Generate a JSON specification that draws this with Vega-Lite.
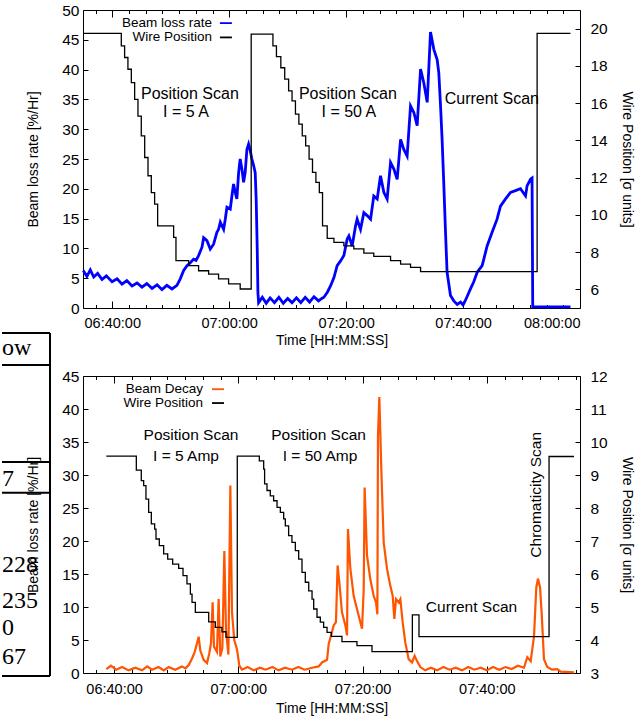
{
"$schema": "https://vega.github.io/schema/vega-lite/v6.json",
"padding": {"left": 0, "top": 2, "right": 4, "bottom": 0},
"bounds": "flush",
"spacing": 68,
"config": {
  "view": {"stroke": "#000", "strokeWidth": 1},
  "axis": {"grid": false, "domain": false, "tickColor": "#000", "tickWidth": 1, "labelFont": "Liberation Sans", "labelFontSize": 14.5, "labelColor": "#000", "titleFont": "Liberation Sans", "titleFontSize": 14, "titleFontWeight": "normal", "titleColor": "#000", "labelOverlap": false}
},
"datasets": {
  "blue": [
    {"t":"06:35:03","v":6.3},{"t":"06:35:40","v":5.3},{"t":"06:36:15","v":6.4},{"t":"06:36:50","v":5.2},{"t":"06:37:30","v":5.8},{"t":"06:38:15","v":4.8},{"t":"06:39:00","v":5.4},{"t":"06:39:58","v":4.4},{"t":"06:40:50","v":4.9},{"t":"06:41:40","v":4.0},{"t":"06:42:30","v":4.6},{"t":"06:43:23","v":3.7},{"t":"06:44:15","v":4.2},{"t":"06:45:05","v":3.5},{"t":"06:45:55","v":4.1},{"t":"06:46:48","v":3.3},{"t":"06:47:40","v":3.9},{"t":"06:48:30","v":3.1},{"t":"06:49:20","v":3.8},{"t":"06:50:13","v":3.2},{"t":"06:51:04","v":3.8},{"t":"06:51:38","v":4.9},{"t":"06:52:13","v":6.3},{"t":"06:52:47","v":7.1},{"t":"06:53:21","v":7.6},{"t":"06:53:55","v":8.2},{"t":"06:54:20","v":8.0},{"t":"06:54:46","v":8.8},{"t":"06:55:21","v":10.2},{"t":"06:55:38","v":11.8},{"t":"06:56:12","v":11.3},{"t":"06:56:46","v":9.9},{"t":"06:57:20","v":10.7},{"t":"06:57:54","v":12.7},{"t":"06:58:11","v":13.2},{"t":"06:58:29","v":14.4},{"t":"06:59:03","v":13.2},{"t":"06:59:20","v":14.9},{"t":"06:59:37","v":16.9},{"t":"07:00:11","v":16.6},{"t":"07:00:28","v":18.8},{"t":"07:00:45","v":20.8},{"t":"07:01:02","v":19.4},{"t":"07:01:19","v":18.3},{"t":"07:01:37","v":22.7},{"t":"07:01:53","v":25.0},{"t":"07:02:11","v":23.3},{"t":"07:02:28","v":21.1},{"t":"07:02:44","v":22.7},{"t":"07:03:02","v":26.6},{"t":"07:03:19","v":27.5},{"t":"07:03:36","v":26.4},{"t":"07:03:53","v":25.0},{"t":"07:04:11","v":23.9},{"t":"07:04:27","v":22.7},{"t":"07:04:37","v":18.3},{"t":"07:04:48","v":9.9},{"t":"07:04:55","v":2.6},{"t":"07:05:02","v":0.9},{"t":"07:05:40","v":1.8},{"t":"07:06:20","v":0.8},{"t":"07:07:00","v":1.7},{"t":"07:07:45","v":0.9},{"t":"07:08:30","v":1.8},{"t":"07:09:15","v":0.8},{"t":"07:10:00","v":1.6},{"t":"07:10:45","v":0.9},{"t":"07:11:30","v":1.7},{"t":"07:12:15","v":0.9},{"t":"07:13:00","v":1.8},{"t":"07:13:45","v":1.0},{"t":"07:14:30","v":1.9},{"t":"07:15:17","v":1.2},{"t":"07:15:50","v":1.6},{"t":"07:16:12","v":1.8},{"t":"07:16:46","v":2.6},{"t":"07:17:20","v":3.7},{"t":"07:17:55","v":5.1},{"t":"07:18:28","v":7.1},{"t":"07:19:03","v":7.9},{"t":"07:19:37","v":8.8},{"t":"07:20:11","v":11.6},{"t":"07:20:28","v":12.1},{"t":"07:21:02","v":10.4},{"t":"07:21:37","v":13.8},{"t":"07:21:53","v":14.9},{"t":"07:22:28","v":13.2},{"t":"07:23:02","v":16.0},{"t":"07:23:36","v":15.5},{"t":"07:24:11","v":14.9},{"t":"07:24:44","v":18.8},{"t":"07:25:19","v":18.3},{"t":"07:25:53","v":22.2},{"t":"07:26:27","v":19.4},{"t":"07:27:01","v":18.3},{"t":"07:27:36","v":24.4},{"t":"07:28:10","v":23.3},{"t":"07:28:44","v":21.6},{"t":"07:29:19","v":28.3},{"t":"07:29:52","v":26.6},{"t":"07:30:26","v":25.5},{"t":"07:31:01","v":33.9},{"t":"07:31:35","v":32.8},{"t":"07:32:09","v":30.6},{"t":"07:32:44","v":40.1},{"t":"07:33:17","v":37.8},{"t":"07:33:52","v":34.5},{"t":"07:34:26","v":46.3},{"t":"07:35:00","v":43.4},{"t":"07:35:34","v":41.7},{"t":"07:35:51","v":39.5},{"t":"07:36:09","v":33.9},{"t":"07:36:25","v":28.3},{"t":"07:36:43","v":20.5},{"t":"07:37:00","v":12.7},{"t":"07:37:16","v":6.0},{"t":"07:37:51","v":2.1},{"t":"07:38:25","v":1.2},{"t":"07:39:00","v":0.6},{"t":"07:39:34","v":1.0},{"t":"07:40:00","v":0.5},{"t":"07:40:25","v":1.3},{"t":"07:41:16","v":3.2},{"t":"07:41:50","v":4.4},{"t":"07:42:25","v":6.0},{"t":"07:43:16","v":7.1},{"t":"07:44:07","v":10.4},{"t":"07:44:58","v":12.7},{"t":"07:45:49","v":14.9},{"t":"07:46:24","v":17.1},{"t":"07:47:16","v":18.3},{"t":"07:48:07","v":19.4},{"t":"07:48:58","v":19.7},{"t":"07:49:49","v":20.0},{"t":"07:50:41","v":18.8},{"t":"07:50:57","v":20.5},{"t":"07:51:32","v":21.6},{"t":"07:51:48","v":21.8},{"t":"07:51:55","v":0.2},{"t":"07:58:22","v":0.2}
  ],
  "wireTop": [
    {"t":"06:35:00","w":19.75},{"t":"06:41:33","w":19.07},{"t":"06:42:07","w":18.45},{"t":"06:42:41","w":17.82},{"t":"06:43:16","w":17.1},{"t":"06:43:50","w":16.2},{"t":"06:44:24","w":15.3},{"t":"06:44:58","w":14.24},{"t":"06:45:33","w":13.08},{"t":"06:46:07","w":12.1},{"t":"06:46:41","w":11.2},{"t":"06:47:15","w":10.58},{"t":"06:47:46","w":9.41},{"t":"06:50:30","w":8.79},{"t":"06:50:54","w":7.54},{"t":"06:53:04","w":7.27},{"t":"06:54:46","w":7.0},{"t":"06:56:29","w":6.82},{"t":"06:58:11","w":6.56},{"t":"06:59:54","w":6.29},{"t":"07:01:53","w":6.02},{"t":"07:03:46","w":19.7},{"t":"07:07:29","w":19.07},{"t":"07:08:05","w":18.5},{"t":"07:08:50","w":17.9},{"t":"07:09:30","w":17.29},{"t":"07:10:10","w":16.66},{"t":"07:10:45","w":16.12},{"t":"07:11:20","w":15.41},{"t":"07:11:55","w":14.87},{"t":"07:12:30","w":14.24},{"t":"07:13:05","w":13.71},{"t":"07:13:40","w":12.99},{"t":"07:14:15","w":12.28},{"t":"07:14:50","w":11.74},{"t":"07:15:25","w":11.2},{"t":"07:15:58","w":9.41},{"t":"07:16:46","w":8.74},{"t":"07:17:55","w":8.52},{"t":"07:19:37","w":8.34},{"t":"07:21:19","w":8.17},{"t":"07:23:02","w":7.95},{"t":"07:24:44","w":7.77},{"t":"07:27:36","w":7.54},{"t":"07:29:19","w":7.36},{"t":"07:31:01","w":7.18},{"t":"07:32:44","w":6.95},{"t":"07:52:40","w":19.75},{"t":"07:58:22","w":19.75}
  ],
  "notesTop": [
    {"t":"06:53:17","v":35.9,"label":"Position Scan"},{"t":"06:52:36","v":32.85,"label":"I = 5 A"},{"t":"07:20:18","v":35.9,"label":"Position Scan"},{"t":"07:20:28","v":32.85,"label":"I = 50 A"},{"t":"07:44:55","v":35.0,"label":"Current Scan"}
  ],
  "legTop": [
    {"t":"06:57:03","v":47.8,"label":"Beam loss rate"},{"t":"06:57:03","v":45.4,"label":"Wire Position"}
  ],
  "legTopRule": [
    {"t0":"06:58:25","t1":"07:00:28","v":47.8,"s":"data"},{"t0":"06:58:25","t1":"07:00:28","v":45.4,"s":"wire"}
  ],
  "orange": [
    {"t":"06:38:45","v":0.6},{"t":"06:39:30","v":1.1},{"t":"06:40:20","v":0.5},{"t":"06:41:17","v":0.9},{"t":"06:42:20","v":0.4},{"t":"06:43:25","v":0.8},{"t":"06:44:30","v":0.4},{"t":"06:45:20","v":1.0},{"t":"06:46:07","v":0.5},{"t":"06:47:10","v":0.9},{"t":"06:48:00","v":0.4},{"t":"06:48:47","v":0.9},{"t":"06:49:50","v":0.5},{"t":"06:50:56","v":1.0},{"t":"06:51:30","v":0.7},{"t":"06:52:01","v":1.2},{"t":"06:52:33","v":2.2},{"t":"06:52:59","v":3.2},{"t":"06:53:21","v":4.5},{"t":"06:53:37","v":5.5},{"t":"06:53:53","v":3.4},{"t":"06:54:25","v":2.0},{"t":"06:54:58","v":1.5},{"t":"06:55:20","v":3.0},{"t":"06:55:36","v":4.5},{"t":"06:55:52","v":10.7},{"t":"06:56:05","v":4.0},{"t":"06:56:34","v":3.2},{"t":"06:56:50","v":11.2},{"t":"06:57:06","v":2.5},{"t":"06:57:26","v":3.8},{"t":"06:57:45","v":18.5},{"t":"06:58:01","v":6.5},{"t":"06:58:24","v":2.8},{"t":"06:58:43","v":28.4},{"t":"06:58:59","v":9.2},{"t":"06:59:21","v":5.0},{"t":"06:59:47","v":3.6},{"t":"07:00:10","v":1.1},{"t":"07:00:36","v":0.5},{"t":"07:01:30","v":0.9},{"t":"07:02:30","v":0.4},{"t":"07:03:30","v":0.8},{"t":"07:04:21","v":0.5},{"t":"07:05:30","v":0.9},{"t":"07:06:30","v":0.4},{"t":"07:07:30","v":0.8},{"t":"07:08:38","v":0.5},{"t":"07:09:40","v":0.9},{"t":"07:10:40","v":0.5},{"t":"07:11:52","v":0.8},{"t":"07:12:56","v":1.0},{"t":"07:13:28","v":1.6},{"t":"07:14:17","v":2.0},{"t":"07:14:33","v":4.4},{"t":"07:15:05","v":6.2},{"t":"07:15:21","v":7.2},{"t":"07:15:43","v":7.7},{"t":"07:15:59","v":16.3},{"t":"07:16:16","v":13.7},{"t":"07:16:41","v":9.2},{"t":"07:17:14","v":7.2},{"t":"07:17:30","v":5.7},{"t":"07:17:39","v":21.8},{"t":"07:18:02","v":15.8},{"t":"07:18:34","v":11.7},{"t":"07:19:22","v":8.7},{"t":"07:19:55","v":6.7},{"t":"07:20:11","v":12.7},{"t":"07:20:20","v":28.1},{"t":"07:20:43","v":17.8},{"t":"07:21:15","v":14.2},{"t":"07:21:47","v":11.7},{"t":"07:22:10","v":10.7},{"t":"07:22:23","v":8.9},{"t":"07:22:29","v":36.0},{"t":"07:22:42","v":41.8},{"t":"07:23:01","v":30.9},{"t":"07:23:24","v":19.8},{"t":"07:23:56","v":15.8},{"t":"07:24:28","v":13.2},{"t":"07:24:51","v":11.7},{"t":"07:25:07","v":8.2},{"t":"07:25:23","v":11.2},{"t":"07:25:49","v":10.7},{"t":"07:26:05","v":11.2},{"t":"07:26:27","v":7.7},{"t":"07:26:53","v":4.6},{"t":"07:27:25","v":2.1},{"t":"07:27:58","v":1.6},{"t":"07:28:23","v":2.6},{"t":"07:28:46","v":1.8},{"t":"07:29:18","v":0.9},{"t":"07:30:06","v":0.4},{"t":"07:31:00","v":0.8},{"t":"07:32:00","v":0.4},{"t":"07:33:00","v":0.9},{"t":"07:34:00","v":0.5},{"t":"07:35:00","v":0.8},{"t":"07:36:00","v":0.4},{"t":"07:37:00","v":0.9},{"t":"07:38:00","v":0.5},{"t":"07:39:00","v":0.8},{"t":"07:40:00","v":0.4},{"t":"07:41:00","v":0.9},{"t":"07:42:00","v":0.5},{"t":"07:43:00","v":0.9},{"t":"07:44:00","v":0.6},{"t":"07:45:00","v":1.1},{"t":"07:45:59","v":0.8},{"t":"07:46:31","v":2.4},{"t":"07:47:04","v":1.8},{"t":"07:47:36","v":5.6},{"t":"07:47:58","v":13.0},{"t":"07:48:14","v":14.3},{"t":"07:48:34","v":13.0},{"t":"07:48:50","v":9.0},{"t":"07:49:12","v":2.1},{"t":"07:49:44","v":0.9},{"t":"07:50:30","v":0.5},{"t":"07:51:21","v":0.6},{"t":"07:51:53","v":0.2},{"t":"07:54:02","v":0.1}
  ],
  "wireBot": [
    {"t":"06:38:45","w":9.57},{"t":"06:43:35","w":9.15},{"t":"06:44:23","w":8.83},{"t":"06:44:46","w":8.68},{"t":"06:45:08","w":8.27},{"t":"06:45:34","w":7.87},{"t":"06:46:00","w":7.52},{"t":"06:46:32","w":7.36},{"t":"06:46:45","w":7.06},{"t":"06:47:17","w":6.86},{"t":"06:47:59","w":6.61},{"t":"06:48:38","w":6.45},{"t":"06:49:26","w":6.30},{"t":"06:50:24","w":6.17},{"t":"06:51:06","w":5.95},{"t":"06:51:44","w":5.70},{"t":"06:52:17","w":5.39},{"t":"06:52:33","w":5.14},{"t":"06:53:05","w":4.84},{"t":"06:55:14","w":4.55},{"t":"06:56:18","w":4.38},{"t":"06:57:22","w":4.25},{"t":"06:58:01","w":4.08},{"t":"06:59:50","w":9.57},{"t":"07:03:23","w":9.43},{"t":"07:04:05","w":9.18},{"t":"07:04:14","w":8.73},{"t":"07:04:37","w":8.53},{"t":"07:05:09","w":8.37},{"t":"07:05:41","w":8.22},{"t":"07:06:14","w":8.02},{"t":"07:06:46","w":7.87},{"t":"07:07:18","w":7.67},{"t":"07:07:34","w":7.46},{"t":"07:08:06","w":7.16},{"t":"07:08:38","w":6.96},{"t":"07:09:11","w":6.71},{"t":"07:09:43","w":6.45},{"t":"07:10:15","w":6.05},{"t":"07:10:47","w":5.75},{"t":"07:11:20","w":5.49},{"t":"07:11:52","w":5.24},{"t":"07:12:08","w":4.94},{"t":"07:12:40","w":4.69},{"t":"07:13:12","w":4.54},{"t":"07:13:44","w":4.38},{"t":"07:14:17","w":4.23},{"t":"07:14:58","w":4.11},{"t":"07:16:41","w":3.95},{"t":"07:19:06","w":3.83},{"t":"07:21:31","w":3.65},{"t":"07:28:01","w":4.76},{"t":"07:29:05","w":4.10},{"t":"07:50:01","w":9.56},{"t":"07:54:02","w":9.56}
  ],
  "notesBot": [
    {"t":"06:52:23","v":36.1,"label":"Position Scan"},{"t":"06:51:35","v":32.9,"label":"I = 5 Amp"},{"t":"07:12:55","v":36.0,"label":"Position Scan"},{"t":"07:13:09","v":32.9,"label":"I = 50 Amp"},{"t":"07:37:32","v":10.0,"label":"Current Scan"}
  ],
  "chrom": [{"t":"07:47:55","v":27.0,"label":"Chromaticity Scan"}],
  "legBot": [
    {"t":"06:54:19","v":43.0,"label":"Beam Decay"},{"t":"06:54:19","v":40.9,"label":"Wire Position"}
  ],
  "legBotRule": [
    {"t0":"06:55:46","t1":"06:57:42","v":43.0,"s":"data"},{"t0":"06:55:46","t1":"06:57:42","v":40.9,"s":"wire"}
  ],
  "tableLines": [
    {"x1":0,"x2":1,"y1":0,"y2":0},{"x1":0,"x2":1,"y1":0.93,"y2":0.93},{"x1":0,"x2":1,"y1":3.76,"y2":3.76},{"x1":0,"x2":1,"y1":4.66,"y2":4.66},{"x1":0,"x2":1,"y1":10,"y2":10},{"x1":1,"x2":1,"y1":0,"y2":10}
  ],
  "tableText": [
    {"c":0,"r":0.44,"txt":"ow"},{"c":0,"r":4.27,"txt":"7"},{"c":0,"r":6.76,"txt":"228"},{"c":0,"r":7.81,"txt":"235"},{"c":0,"r":8.6,"txt":"0"},{"c":0,"r":9.45,"txt":"67"}
  ]
},
"vconcat": [
  {
    "width": 497, "height": 298,
    "resolve": {"scale": {"x": "independent", "y": "independent", "color": "independent"}, "axis": {"x": "independent", "y": "independent"}},
    "layer": [
      {
        "data": {"name": "blue", "format": {"parse": {"t": "date:'%H:%M:%S'"}}},
        "mark": {"type": "line", "color": "#0000ff", "strokeWidth": 2.8},
        "encoding": {
          "x": {"field": "t", "type": "temporal", "scale": {"domain": [{"year":1900,"month":1,"date":1,"hours":6,"minutes":35},{"year":1900,"month":1,"date":1,"hours":8,"minutes":0}], "nice": false},
                "axis": {"orient": "bottom", "format": "%H:%M:%S", "tickSize": -7, "labelPadding": 15, "title": "Time [HH:MM:SS]", "titlePadding": 4,
                  "values": [{"year":1900,"month":1,"date":1,"hours":6,"minutes":40},{"year":1900,"month":1,"date":1,"hours":7,"minutes":0},{"year":1900,"month":1,"date":1,"hours":7,"minutes":20},{"year":1900,"month":1,"date":1,"hours":7,"minutes":40},{"year":1900,"month":1,"date":1,"hours":8,"minutes":0}]}},
          "y": {"field": "v", "type": "quantitative", "scale": {"domain": [0, 50], "nice": false, "zero": false},
                "axis": {"orient": "left", "values": [0,5,10,15,20,25,30,35,40,45,50], "tickSize": -5, "labelPadding": 9, "labelFontSize": 15.5, "title": "Beam loss rate [%/Hr]", "titlePadding": 21}}
        }
      },
      {
        "data": {"name": "wireTop", "format": {"parse": {"t": "date:'%H:%M:%S'"}}},
        "mark": {"type": "line", "interpolate": "step-after", "color": "#000000", "strokeWidth": 1.3},
        "encoding": {
          "x": {"field": "t", "type": "temporal", "scale": {"domain": [{"year":1900,"month":1,"date":1,"hours":6,"minutes":35},{"year":1900,"month":1,"date":1,"hours":8,"minutes":0}], "nice": false},
                "axis": {"orient": "top", "labels": false, "tickSize": -7, "title": null,
                  "values": [{"year":1900,"month":1,"date":1,"hours":6,"minutes":40},{"year":1900,"month":1,"date":1,"hours":7,"minutes":0},{"year":1900,"month":1,"date":1,"hours":7,"minutes":20},{"year":1900,"month":1,"date":1,"hours":7,"minutes":40},{"year":1900,"month":1,"date":1,"hours":8,"minutes":0}]}},
          "y": {"field": "w", "type": "quantitative", "scale": {"domain": [5, 21], "nice": false, "zero": false},
                "axis": {"orient": "right", "values": [6,8,10,12,14,16,18,20], "tickSize": -5, "labelPadding": 15, "labelFontSize": 15.5, "title": "Wire Position [σ units]", "titlePadding": 12}}
        }
      },
      {
        "data": {"name": "notesTop", "format": {"parse": {"t": "date:'%H:%M:%S'"}}},
        "mark": {"type": "text", "font": "Liberation Sans", "fontSize": 16, "align": "center", "baseline": "middle", "color": "#000"},
        "encoding": {
          "x": {"field": "t", "type": "temporal", "scale": {"domain": [{"year":1900,"month":1,"date":1,"hours":6,"minutes":35},{"year":1900,"month":1,"date":1,"hours":8,"minutes":0}], "nice": false},
                "axis": {"orient": "bottom", "labels": false, "tickSize": -3.5, "title": null,
                  "values": [{"year":1900,"month":1,"date":1,"hours":6,"minutes":37,"seconds":9},{"year":1900,"month":1,"date":1,"hours":6,"minutes":42,"seconds":51},{"year":1900,"month":1,"date":1,"hours":6,"minutes":45,"seconds":43},{"year":1900,"month":1,"date":1,"hours":6,"minutes":48,"seconds":34},{"year":1900,"month":1,"date":1,"hours":6,"minutes":51,"seconds":26},{"year":1900,"month":1,"date":1,"hours":6,"minutes":54,"seconds":17},{"year":1900,"month":1,"date":1,"hours":6,"minutes":57,"seconds":9},{"year":1900,"month":1,"date":1,"hours":7,"minutes":2,"seconds":51},{"year":1900,"month":1,"date":1,"hours":7,"minutes":5,"seconds":43},{"year":1900,"month":1,"date":1,"hours":7,"minutes":8,"seconds":34},{"year":1900,"month":1,"date":1,"hours":7,"minutes":11,"seconds":26},{"year":1900,"month":1,"date":1,"hours":7,"minutes":14,"seconds":17},{"year":1900,"month":1,"date":1,"hours":7,"minutes":17,"seconds":9},{"year":1900,"month":1,"date":1,"hours":7,"minutes":22,"seconds":51},{"year":1900,"month":1,"date":1,"hours":7,"minutes":25,"seconds":43},{"year":1900,"month":1,"date":1,"hours":7,"minutes":28,"seconds":34},{"year":1900,"month":1,"date":1,"hours":7,"minutes":31,"seconds":26},{"year":1900,"month":1,"date":1,"hours":7,"minutes":34,"seconds":17},{"year":1900,"month":1,"date":1,"hours":7,"minutes":37,"seconds":9},{"year":1900,"month":1,"date":1,"hours":7,"minutes":42,"seconds":51},{"year":1900,"month":1,"date":1,"hours":7,"minutes":45,"seconds":43},{"year":1900,"month":1,"date":1,"hours":7,"minutes":48,"seconds":34},{"year":1900,"month":1,"date":1,"hours":7,"minutes":51,"seconds":26},{"year":1900,"month":1,"date":1,"hours":7,"minutes":54,"seconds":17},{"year":1900,"month":1,"date":1,"hours":7,"minutes":57,"seconds":9}]}},
          "y": {"field": "v", "type": "quantitative", "scale": {"domain": [0, 50], "nice": false, "zero": false}, "axis": null},
          "text": {"field": "label"}
        }
      },
      {
        "data": {"name": "legTop", "format": {"parse": {"t": "date:'%H:%M:%S'"}}},
        "mark": {"type": "text", "font": "Liberation Sans", "fontSize": 13.5, "align": "right", "baseline": "middle", "color": "#000"},
        "encoding": {
          "x": {"field": "t", "type": "temporal", "scale": {"domain": [{"year":1900,"month":1,"date":1,"hours":6,"minutes":35},{"year":1900,"month":1,"date":1,"hours":8,"minutes":0}], "nice": false},
                "axis": {"orient": "top", "labels": false, "tickSize": -3.5, "title": null,
                  "values": [{"year":1900,"month":1,"date":1,"hours":6,"minutes":37,"seconds":9},{"year":1900,"month":1,"date":1,"hours":6,"minutes":42,"seconds":51},{"year":1900,"month":1,"date":1,"hours":6,"minutes":45,"seconds":43},{"year":1900,"month":1,"date":1,"hours":6,"minutes":48,"seconds":34},{"year":1900,"month":1,"date":1,"hours":6,"minutes":51,"seconds":26},{"year":1900,"month":1,"date":1,"hours":6,"minutes":54,"seconds":17},{"year":1900,"month":1,"date":1,"hours":6,"minutes":57,"seconds":9},{"year":1900,"month":1,"date":1,"hours":7,"minutes":2,"seconds":51},{"year":1900,"month":1,"date":1,"hours":7,"minutes":5,"seconds":43},{"year":1900,"month":1,"date":1,"hours":7,"minutes":8,"seconds":34},{"year":1900,"month":1,"date":1,"hours":7,"minutes":11,"seconds":26},{"year":1900,"month":1,"date":1,"hours":7,"minutes":14,"seconds":17},{"year":1900,"month":1,"date":1,"hours":7,"minutes":17,"seconds":9},{"year":1900,"month":1,"date":1,"hours":7,"minutes":22,"seconds":51},{"year":1900,"month":1,"date":1,"hours":7,"minutes":25,"seconds":43},{"year":1900,"month":1,"date":1,"hours":7,"minutes":28,"seconds":34},{"year":1900,"month":1,"date":1,"hours":7,"minutes":31,"seconds":26},{"year":1900,"month":1,"date":1,"hours":7,"minutes":34,"seconds":17},{"year":1900,"month":1,"date":1,"hours":7,"minutes":37,"seconds":9},{"year":1900,"month":1,"date":1,"hours":7,"minutes":42,"seconds":51},{"year":1900,"month":1,"date":1,"hours":7,"minutes":45,"seconds":43},{"year":1900,"month":1,"date":1,"hours":7,"minutes":48,"seconds":34},{"year":1900,"month":1,"date":1,"hours":7,"minutes":51,"seconds":26},{"year":1900,"month":1,"date":1,"hours":7,"minutes":54,"seconds":17},{"year":1900,"month":1,"date":1,"hours":7,"minutes":57,"seconds":9}]}},
          "y": {"field": "v", "type": "quantitative", "scale": {"domain": [0, 50], "nice": false, "zero": false}, "axis": null},
          "text": {"field": "label"}
        }
      },
      {
        "data": {"name": "legTopRule", "format": {"parse": {"t0": "date:'%H:%M:%S'", "t1": "date:'%H:%M:%S'"}}},
        "mark": {"type": "rule", "strokeWidth": 1.8},
        "encoding": {
          "x": {"field": "t0", "type": "temporal", "scale": {"domain": [{"year":1900,"month":1,"date":1,"hours":6,"minutes":35},{"year":1900,"month":1,"date":1,"hours":8,"minutes":0}], "nice": false}, "axis": null},
          "x2": {"field": "t1"},
          "y": {"field": "v", "type": "quantitative", "scale": {"domain": [0, 50], "nice": false, "zero": false}, "axis": null},
          "color": {"field": "s", "type": "nominal", "scale": {"domain": ["data", "wire"], "range": ["#0000ff", "#000000"]}, "legend": null}
        }
      }
    ]
  },
  {
    "width": 497, "height": 297,
    "resolve": {"scale": {"x": "independent", "y": "independent", "color": "independent"}, "axis": {"x": "independent", "y": "independent"}},
    "layer": [
      {
        "data": {"name": "tableLines"},
        "mark": {"type": "rule", "strokeWidth": 2, "color": "#000"},
        "encoding": {
          "x": {"field": "x1", "type": "quantitative", "scale": {"domain": [0, 1], "range": [-81, -33], "nice": false, "zero": false}, "axis": null},
          "x2": {"field": "x2"},
          "y": {"field": "y1", "type": "quantitative", "scale": {"domain": [0, 10], "range": [-43, 300], "nice": false, "zero": false}, "axis": null},
          "y2": {"field": "y2"}
        }
      },
      {
        "data": {"name": "tableText"},
        "mark": {"type": "text", "font": "Liberation Serif", "fontSize": 24, "align": "left", "baseline": "middle", "color": "#000"},
        "encoding": {
          "x": {"field": "c", "type": "quantitative", "scale": {"domain": [0, 1], "range": [-81, -33], "nice": false, "zero": false}, "axis": null},
          "y": {"field": "r", "type": "quantitative", "scale": {"domain": [0, 10], "range": [-43, 300], "nice": false, "zero": false}, "axis": null},
          "text": {"field": "txt"}
        }
      },
      {
        "data": {"name": "orange", "format": {"parse": {"t": "date:'%H:%M:%S'"}}},
        "mark": {"type": "line", "color": "#ff5500", "strokeWidth": 2.2},
        "encoding": {
          "x": {"field": "t", "type": "temporal", "scale": {"domain": [{"year":1900,"month":1,"date":1,"hours":6,"minutes":35},{"year":1900,"month":1,"date":1,"hours":7,"minutes":55}], "nice": false},
                "axis": {"orient": "bottom", "format": "%H:%M:%S", "tickSize": -7, "labelPadding": 16, "title": "Time [HH:MM:SS]", "titlePadding": 6,
                  "values": [{"year":1900,"month":1,"date":1,"hours":6,"minutes":40},{"year":1900,"month":1,"date":1,"hours":7,"minutes":0},{"year":1900,"month":1,"date":1,"hours":7,"minutes":20},{"year":1900,"month":1,"date":1,"hours":7,"minutes":40}]}},
          "y": {"field": "v", "type": "quantitative", "scale": {"domain": [0, 45], "nice": false, "zero": false},
                "axis": {"orient": "left", "values": [0,5,10,15,20,25,30,35,40,45], "tickSize": -5, "labelPadding": 9, "labelFontSize": 15.5, "title": "Beam loss rate [%/Hr]", "titlePadding": 21, "zindex": 1}}
        }
      },
      {
        "data": {"name": "wireBot", "format": {"parse": {"t": "date:'%H:%M:%S'"}}},
        "mark": {"type": "line", "interpolate": "step-after", "color": "#000000", "strokeWidth": 1.3},
        "encoding": {
          "x": {"field": "t", "type": "temporal", "scale": {"domain": [{"year":1900,"month":1,"date":1,"hours":6,"minutes":35},{"year":1900,"month":1,"date":1,"hours":7,"minutes":55}], "nice": false},
                "axis": {"orient": "top", "labels": false, "tickSize": -7, "title": null,
                  "values": [{"year":1900,"month":1,"date":1,"hours":6,"minutes":40},{"year":1900,"month":1,"date":1,"hours":7,"minutes":0},{"year":1900,"month":1,"date":1,"hours":7,"minutes":20},{"year":1900,"month":1,"date":1,"hours":7,"minutes":40}]}},
          "y": {"field": "w", "type": "quantitative", "scale": {"domain": [3, 12], "nice": false, "zero": false},
                "axis": {"orient": "right", "values": [3,4,5,6,7,8,9,10,11,12], "tickSize": -5, "labelPadding": 15, "labelFontSize": 15.5, "title": "Wire Position [σ units]", "titlePadding": 12}}
        }
      },
      {
        "data": {"name": "notesBot", "format": {"parse": {"t": "date:'%H:%M:%S'"}}},
        "mark": {"type": "text", "font": "Liberation Sans", "fontSize": 15.5, "align": "center", "baseline": "middle", "color": "#000"},
        "encoding": {
          "x": {"field": "t", "type": "temporal", "scale": {"domain": [{"year":1900,"month":1,"date":1,"hours":6,"minutes":35},{"year":1900,"month":1,"date":1,"hours":7,"minutes":55}], "nice": false},
                "axis": {"orient": "bottom", "labels": false, "tickSize": -3.5, "title": null,
                  "values": [{"year":1900,"month":1,"date":1,"hours":6,"minutes":37,"seconds":9},{"year":1900,"month":1,"date":1,"hours":6,"minutes":42,"seconds":51},{"year":1900,"month":1,"date":1,"hours":6,"minutes":45,"seconds":43},{"year":1900,"month":1,"date":1,"hours":6,"minutes":48,"seconds":34},{"year":1900,"month":1,"date":1,"hours":6,"minutes":51,"seconds":26},{"year":1900,"month":1,"date":1,"hours":6,"minutes":54,"seconds":17},{"year":1900,"month":1,"date":1,"hours":6,"minutes":57,"seconds":9},{"year":1900,"month":1,"date":1,"hours":7,"minutes":2,"seconds":51},{"year":1900,"month":1,"date":1,"hours":7,"minutes":5,"seconds":43},{"year":1900,"month":1,"date":1,"hours":7,"minutes":8,"seconds":34},{"year":1900,"month":1,"date":1,"hours":7,"minutes":11,"seconds":26},{"year":1900,"month":1,"date":1,"hours":7,"minutes":14,"seconds":17},{"year":1900,"month":1,"date":1,"hours":7,"minutes":17,"seconds":9},{"year":1900,"month":1,"date":1,"hours":7,"minutes":22,"seconds":51},{"year":1900,"month":1,"date":1,"hours":7,"minutes":25,"seconds":43},{"year":1900,"month":1,"date":1,"hours":7,"minutes":28,"seconds":34},{"year":1900,"month":1,"date":1,"hours":7,"minutes":31,"seconds":26},{"year":1900,"month":1,"date":1,"hours":7,"minutes":34,"seconds":17},{"year":1900,"month":1,"date":1,"hours":7,"minutes":37,"seconds":9},{"year":1900,"month":1,"date":1,"hours":7,"minutes":42,"seconds":51},{"year":1900,"month":1,"date":1,"hours":7,"minutes":45,"seconds":43},{"year":1900,"month":1,"date":1,"hours":7,"minutes":48,"seconds":34},{"year":1900,"month":1,"date":1,"hours":7,"minutes":51,"seconds":26},{"year":1900,"month":1,"date":1,"hours":7,"minutes":54,"seconds":17}]}},
          "y": {"field": "v", "type": "quantitative", "scale": {"domain": [0, 45], "nice": false, "zero": false}, "axis": null},
          "text": {"field": "label"}
        }
      },
      {
        "data": {"name": "chrom", "format": {"parse": {"t": "date:'%H:%M:%S'"}}},
        "mark": {"type": "text", "font": "Liberation Sans", "fontSize": 15.5, "align": "center", "baseline": "middle", "angle": 270, "color": "#000"},
        "encoding": {
          "x": {"field": "t", "type": "temporal", "scale": {"domain": [{"year":1900,"month":1,"date":1,"hours":6,"minutes":35},{"year":1900,"month":1,"date":1,"hours":7,"minutes":55}], "nice": false},
                "axis": {"orient": "top", "labels": false, "tickSize": -3.5, "title": null,
                  "values": [{"year":1900,"month":1,"date":1,"hours":6,"minutes":37,"seconds":9},{"year":1900,"month":1,"date":1,"hours":6,"minutes":42,"seconds":51},{"year":1900,"month":1,"date":1,"hours":6,"minutes":45,"seconds":43},{"year":1900,"month":1,"date":1,"hours":6,"minutes":48,"seconds":34},{"year":1900,"month":1,"date":1,"hours":6,"minutes":51,"seconds":26},{"year":1900,"month":1,"date":1,"hours":6,"minutes":54,"seconds":17},{"year":1900,"month":1,"date":1,"hours":6,"minutes":57,"seconds":9},{"year":1900,"month":1,"date":1,"hours":7,"minutes":2,"seconds":51},{"year":1900,"month":1,"date":1,"hours":7,"minutes":5,"seconds":43},{"year":1900,"month":1,"date":1,"hours":7,"minutes":8,"seconds":34},{"year":1900,"month":1,"date":1,"hours":7,"minutes":11,"seconds":26},{"year":1900,"month":1,"date":1,"hours":7,"minutes":14,"seconds":17},{"year":1900,"month":1,"date":1,"hours":7,"minutes":17,"seconds":9},{"year":1900,"month":1,"date":1,"hours":7,"minutes":22,"seconds":51},{"year":1900,"month":1,"date":1,"hours":7,"minutes":25,"seconds":43},{"year":1900,"month":1,"date":1,"hours":7,"minutes":28,"seconds":34},{"year":1900,"month":1,"date":1,"hours":7,"minutes":31,"seconds":26},{"year":1900,"month":1,"date":1,"hours":7,"minutes":34,"seconds":17},{"year":1900,"month":1,"date":1,"hours":7,"minutes":37,"seconds":9},{"year":1900,"month":1,"date":1,"hours":7,"minutes":42,"seconds":51},{"year":1900,"month":1,"date":1,"hours":7,"minutes":45,"seconds":43},{"year":1900,"month":1,"date":1,"hours":7,"minutes":48,"seconds":34},{"year":1900,"month":1,"date":1,"hours":7,"minutes":51,"seconds":26},{"year":1900,"month":1,"date":1,"hours":7,"minutes":54,"seconds":17}]}},
          "y": {"field": "v", "type": "quantitative", "scale": {"domain": [0, 45], "nice": false, "zero": false}, "axis": null},
          "text": {"field": "label"}
        }
      },
      {
        "data": {"name": "legBot", "format": {"parse": {"t": "date:'%H:%M:%S'"}}},
        "mark": {"type": "text", "font": "Liberation Sans", "fontSize": 13.5, "align": "right", "baseline": "middle", "color": "#000"},
        "encoding": {
          "x": {"field": "t", "type": "temporal", "scale": {"domain": [{"year":1900,"month":1,"date":1,"hours":6,"minutes":35},{"year":1900,"month":1,"date":1,"hours":7,"minutes":55}], "nice": false}, "axis": null},
          "y": {"field": "v", "type": "quantitative", "scale": {"domain": [0, 45], "nice": false, "zero": false}, "axis": null},
          "text": {"field": "label"}
        }
      },
      {
        "data": {"name": "legBotRule", "format": {"parse": {"t0": "date:'%H:%M:%S'", "t1": "date:'%H:%M:%S'"}}},
        "mark": {"type": "rule", "strokeWidth": 1.8},
        "encoding": {
          "x": {"field": "t0", "type": "temporal", "scale": {"domain": [{"year":1900,"month":1,"date":1,"hours":6,"minutes":35},{"year":1900,"month":1,"date":1,"hours":7,"minutes":55}], "nice": false}, "axis": null},
          "x2": {"field": "t1"},
          "y": {"field": "v", "type": "quantitative", "scale": {"domain": [0, 45], "nice": false, "zero": false}, "axis": null},
          "color": {"field": "s", "type": "nominal", "scale": {"domain": ["data", "wire"], "range": ["#ff5500", "#000000"]}, "legend": null}
        }
      }
    ]
  }
]
}
